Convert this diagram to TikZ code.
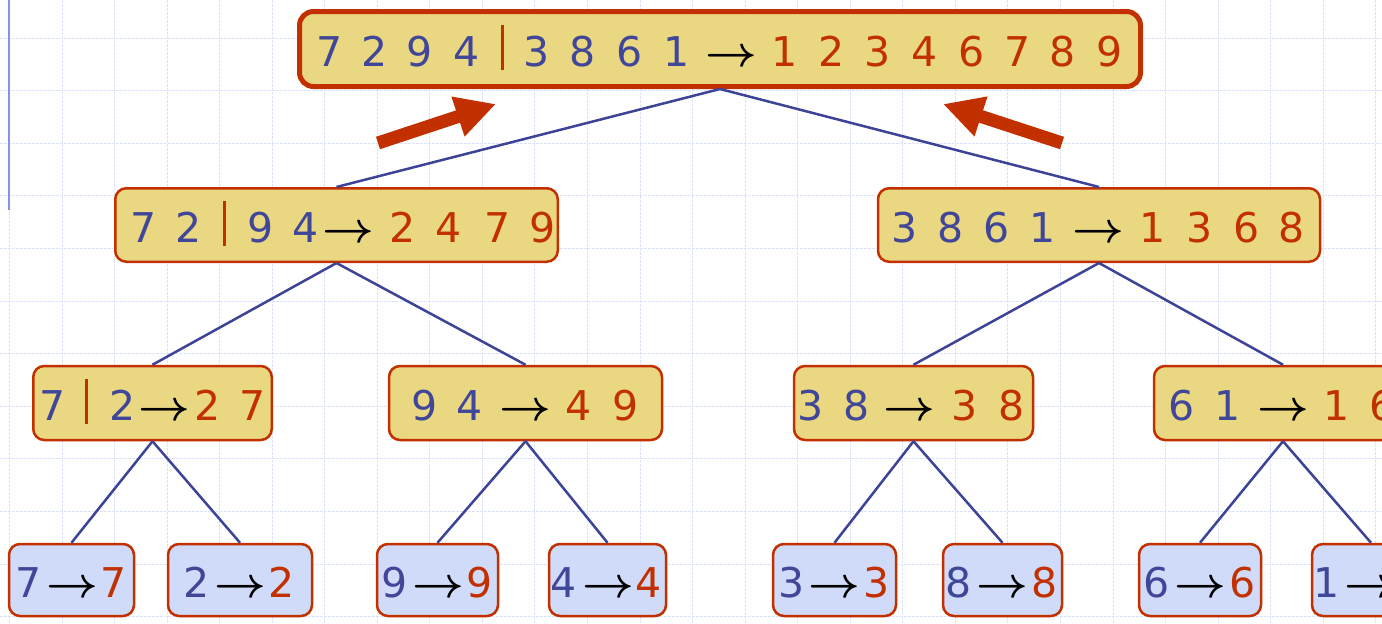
\documentclass[tikz,border=0pt]{standalone}
\usepackage{fontspec}
\usepackage{amsmath}
\usepackage{graphicx}
\setmainfont{DejaVu Sans}
\usetikzlibrary{arrows.meta}

\definecolor{boxred}{HTML}{C23000}
\definecolor{numblue}{HTML}{404698}
\definecolor{linkblue}{HTML}{3D4497}
\definecolor{yellowfill}{HTML}{EAD781}
\definecolor{leaffill}{HTML}{CFDBF8}
\definecolor{gridcol}{HTML}{DDE3F9}
\definecolor{slideline}{HTML}{8093EE}

% one item centred at a given distance from the left edge of a row
\newcommand\putitem[2]{\makebox[0pt][l]{\hspace*{#1pt}\makebox[0pt][c]{#2}}}
\newcommand\bnum[2]{\putitem{#1}{\textcolor{numblue}{#2}}}
\newcommand\rnum[2]{\putitem{#1}{\textcolor{boxred}{#2}}}
\newcommand\sepbar[1]{\putitem{#1}{\textcolor{boxred}{\rule[-4pt]{3pt}{45pt}}}}
\newcommand\toarrow[1]{\putitem{#1}{\scalebox{4.5}[4.3]{\normalsize$\boldsymbol{\rightarrow}$}}}
\newcommand\rowitems[2]{\makebox[#1pt][l]{#2}}

\tikzset{
  sortbox/.style={draw=boxred, line width=2.5pt, rounded corners=11pt,
    inner sep=0pt, text height=42pt, text depth=8pt,
    font=\fontsize{41}{48}\selectfont},
  mergebox/.style={sortbox, fill=yellowfill, minimum height=73.5pt},
  leafbox/.style={sortbox, fill=leaffill, minimum height=72pt},
  rootbox/.style={mergebox, line width=5pt, rounded corners=14pt, minimum height=75pt},
  link/.style={draw=linkblue, line width=2.5pt},
  gridline/.style={draw=gridcol, line width=1pt, dash pattern=on 2.5pt off 1.5pt},
  bigarrow/.style={draw=boxred, line width=13pt,
    -{Triangle[length=40pt,width=39pt]}, fill=boxred}
}

\begin{document}
\begin{tikzpicture}[x=1pt,y=-1pt]
\useasboundingbox (0,0) rectangle (1382,624);
\fill[white] (0,0) rectangle (1382,624);

% background grid
\foreach \i in {0,...,26}
  \draw[gridline] ({9.45+52.55*\i},0) -- ({9.45+52.55*\i},624);
\foreach \j in {0,...,11}
  \draw[gridline] (0,{38+52.6*\j}) -- (1382,{38+52.6*\j});
\draw[slideline, line width=1.8pt] (9,0) -- (9,210);

% root
\node[rootbox, minimum width=841pt] (root) at (720,49)
  {\rowitems{841}{\bnum{30.5}{7}\bnum{75.5}{2}\bnum{120.5}{9}\bnum{167.5}{4}\sepbar{202.5}\bnum{237.5}{3}\bnum{283.5}{8}\bnum{330.5}{6}\bnum{377.5}{1}\toarrow{431.5}\rnum{485.5}{1}\rnum{532.5}{2}\rnum{578.5}{3}\rnum{625.5}{4}\rnum{672.5}{6}\rnum{718.5}{7}\rnum{763.5}{8}\rnum{810.5}{9}}};

% first level
\node[mergebox, minimum width=442.5pt] (left) at (336.5,225)
  {\rowitems{442.5}{\bnum{28}{7}\bnum{73}{2}\sepbar{109}\bnum{145}{9}\bnum{190}{4}\toarrow{233}\rnum{287}{2}\rnum{333}{4}\rnum{382}{7}\rnum{427}{9}}};
\node[mergebox, minimum width=442pt] (right) at (1099,225)
  {\rowitems{442}{\bnum{27}{3}\bnum{73}{8}\bnum{119}{6}\bnum{165}{1}\toarrow{220}\rnum{275}{1}\rnum{322}{3}\rnum{369}{6}\rnum{414}{8}}};

% second level
\node[mergebox, minimum width=238.5pt, minimum height=74pt] (ll) at (152.5,403)
  {\rowitems{238.5}{\bnum{19}{7}\sepbar{53}\bnum{89}{2}\toarrow{131}\rnum{174}{2}\rnum{219}{7}}};
\node[mergebox, minimum width=273pt, minimum height=74pt] (lr) at (525.5,403)
  {\rowitems{273}{\bnum{36}{9}\bnum{81}{4}\toarrow{136}\rnum{190}{4}\rnum{237}{9}}};
\node[mergebox, minimum width=239pt, minimum height=74pt] (rl) at (913.5,403)
  {\rowitems{239}{\bnum{17}{3}\bnum{63}{8}\toarrow{115}\rnum{171}{3}\rnum{218}{8}}};
\node[mergebox, minimum width=258pt, minimum height=74pt] (rr) at (1283,403)
  {\rowitems{258}{\bnum{28}{6}\bnum{74}{1}\toarrow{129}\rnum{183}{1}\rnum{229}{6}}};

% leaves
\node[leafbox, minimum width=125pt] (k1) at (71.5,580)
  {\rowitems{125}{\bnum{20}{7}\toarrow{63}\rnum{105}{7}}};
\node[leafbox, minimum width=144pt] (k2) at (240,580)
  {\rowitems{144}{\bnum{29}{2}\toarrow{72}\rnum{114}{2}}};
\node[leafbox, minimum width=121pt] (k3) at (437.5,580)
  {\rowitems{121}{\bnum{18}{9}\toarrow{61}\rnum{103}{9}}};
\node[leafbox, minimum width=117pt] (k4) at (607.5,580)
  {\rowitems{117}{\bnum{15}{4}\toarrow{59}\rnum{100}{4}}};
\node[leafbox, minimum width=123pt] (k5) at (834.5,580)
  {\rowitems{123}{\bnum{19}{3}\toarrow{61}\rnum{104}{3}}};
\node[leafbox, minimum width=119pt] (k6) at (1002.5,580)
  {\rowitems{119}{\bnum{16}{8}\toarrow{59}\rnum{102}{8}}};
\node[leafbox, minimum width=122pt] (k7) at (1200,580)
  {\rowitems{122}{\bnum{18}{6}\toarrow{61}\rnum{104}{6}}};
\node[leafbox, minimum width=118pt] (k8) at (1371,580)
  {\rowitems{118}{\bnum{15}{1}\toarrow{58}\rnum{100}{1}}};

% tree edges
\draw[link] (root.south) -- (left.north);
\draw[link] (root.south) -- (right.north);
\draw[link] (left.south) -- (ll.north);
\draw[link] (left.south) -- (lr.north);
\draw[link] (right.south) -- (rl.north);
\draw[link] (right.south) -- (rr.north);
\draw[link] (ll.south) -- (k1.north);
\draw[link] (ll.south) -- (k2.north);
\draw[link] (lr.south) -- (k3.north);
\draw[link] (lr.south) -- (k4.north);
\draw[link] (rl.south) -- (k5.north);
\draw[link] (rl.south) -- (k6.north);
\draw[link] (rr.south) -- (k7.north);
\draw[link] (rr.south) -- (k8.north);

% merge arrows pointing up to the root
\coordinate (lt) at (378,143);
\coordinate (lh) at (496,104);
\coordinate (rt) at (1062,143);
\coordinate (rh) at (943,104);
\draw[bigarrow] (lt) -- (lh);
\draw[bigarrow] (rt) -- (rh);
\end{tikzpicture}
\end{document}
